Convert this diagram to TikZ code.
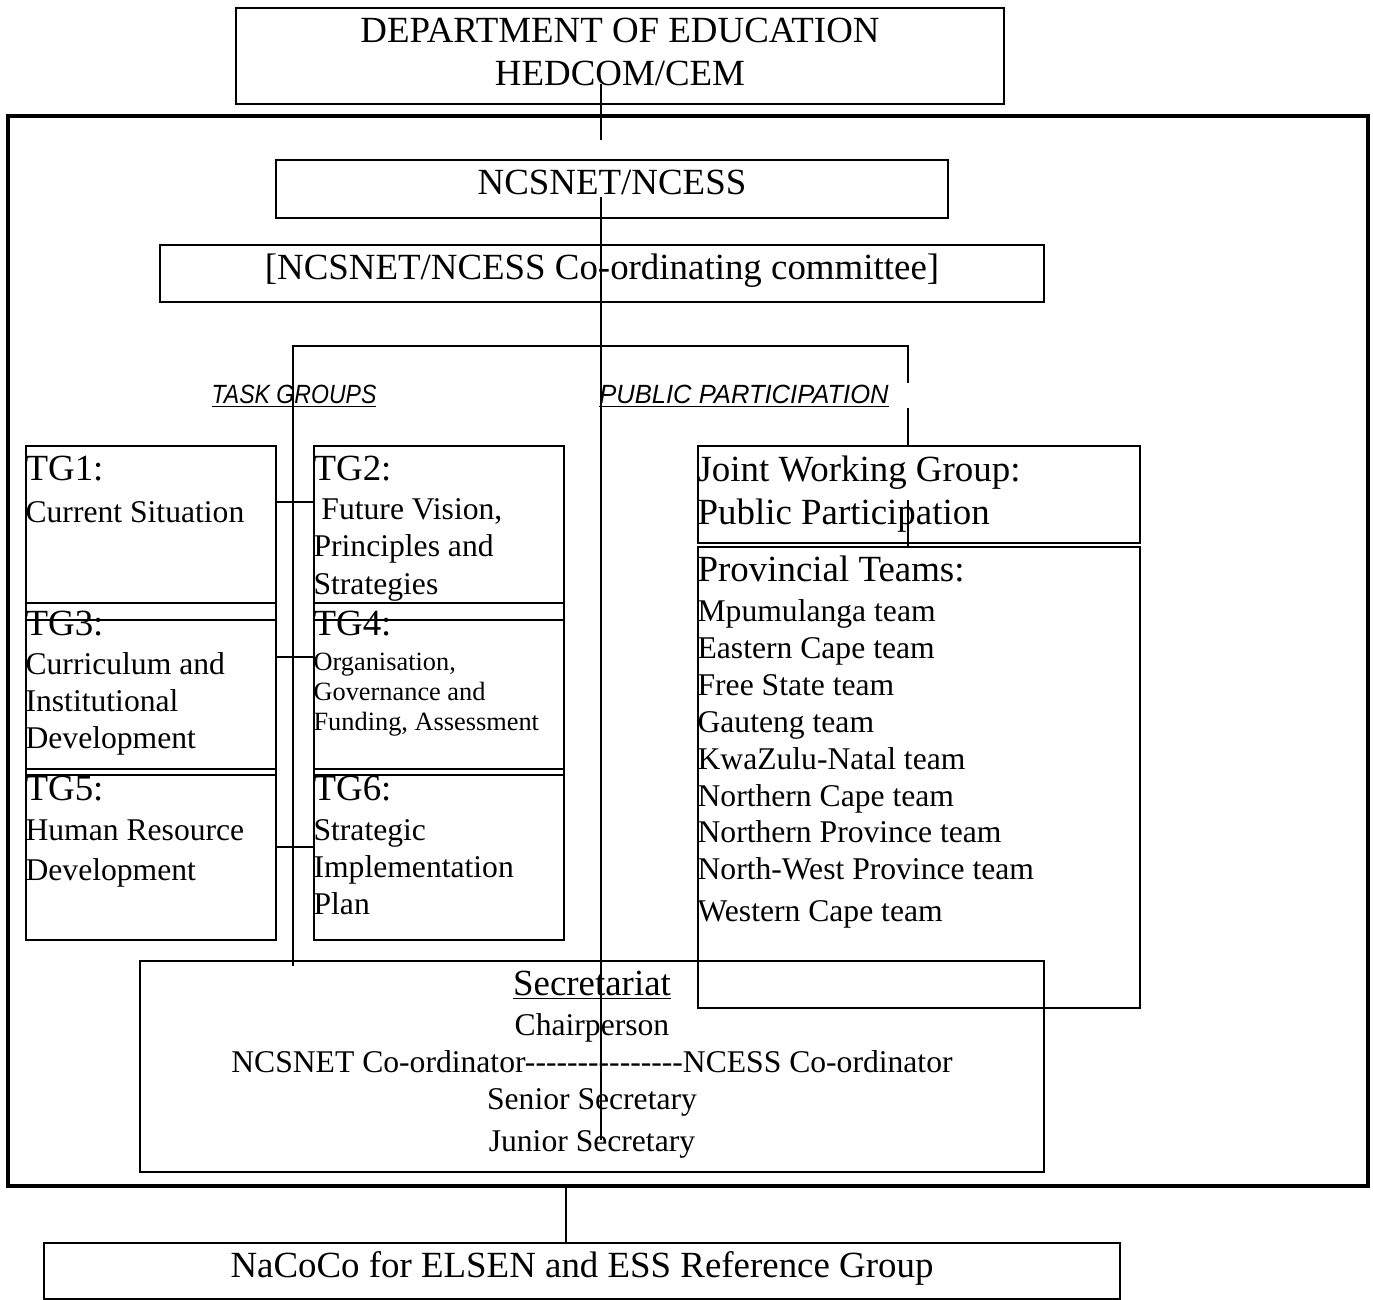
\documentclass[tikz,border=0pt]{standalone}
\usepackage{fontspec}
\setmainfont{Liberation Serif}
\setsansfont{Liberation Sans}
\newfontfamily\tagfont{Liberation Sans}[FakeStretch=0.875]
\newfontfamily\tagwidefont{Liberation Sans}[FakeStretch=0.97]
\usetikzlibrary{positioning}

\newcommand{\orgbig}{\fontsize{21}{24.4}\selectfont}
\newcommand{\orgmid}{\fontsize{18}{21}\selectfont}
\newcommand{\orgsmall}{\fontsize{15}{17}\selectfont}

\begin{document}
\begin{tikzpicture}[
		x=0.02cm, y=-0.02cm,
		orgbox/.style={draw, line width=0.9pt, inner sep=0pt},
		outerbox/.style={draw, line width=2pt, inner sep=0pt},
		orglink/.style={line width=0.9pt},
		boxtext/.style={inner sep=0pt, align=left, font=\orgmid},
		grouptag/.style={anchor=base, inner sep=0pt, font=\itshape\fontsize{15}{17}\selectfont}
		]
		\useasboundingbox (0,0) rectangle (1373,1300);
		
		% --- TOP LEVEL ---
		\node[orgbox, minimum width=15.36cm, minimum height=1.92cm, align=center, font=\orgbig, text depth=4.5pt] (dept) at (620,56) {DEPARTMENT OF EDUCATION\\HEDCOM/CEM};
		\node[outerbox, minimum width=27.2cm, minimum height=21.4cm] (frame) at (688,651) {};
		\node[orgbox, minimum width=13.44cm, minimum height=1.16cm, font=\orgbig, text depth=8pt] (ncsnet) at (612,189) {NCSNET/NCESS};
		\node[orgbox, minimum width=17.68cm, minimum height=1.14cm, font=\orgbig, text depth=8.2pt] (ccom) at (602,273.5) {[NCSNET/NCESS Co-ordinating committee]};
		
		% --- TASK GROUPS ---
		\foreach \n/\x/\y/\h in {1/151/533/3.48, 2/439/533/3.48, 3/151/689/3.44, 4/439/689/3.44, 5/151/854.5/3.42, 6/439/854.5/3.42} {
			\node[orgbox, minimum width=5cm, minimum height=\h cm] (tg\n) at (\x,\y) {};
		}
		\node[boxtext, below right=0.2cm and 0cm of tg1.north west] (tg1txt) {{\orgbig TG1:}\\[3.4pt]Current Situation};
		\node[boxtext, below right=0.2cm and 0cm of tg2.north west] (tg2txt) {{\orgbig TG2:}\\[1.5pt]\hspace{0.25em}Future Vision,\\Principles and\\[0.8pt]Strategies};
		\node[boxtext, below right=0.16cm and 0cm of tg3.north west] (tg3txt) {{\orgbig TG3:}\\[1.7pt]Curriculum and\\Institutional\\Development};
		\node[boxtext, font=\orgsmall, below right=0.16cm and 0cm of tg4.north west] (tg4txt) {{\orgbig TG4:}\\[3.4pt]Organisation,\\Governance and\\Funding, Assessment};
		\node[boxtext, below right=0.14cm and 0cm of tg5.north west] (tg5txt) {{\orgbig TG5:}\\[2.2pt]Human Resource\\[1.7pt]Development};
		\node[boxtext, below right=0.14cm and 0cm of tg6.north west] (tg6txt) {{\orgbig TG6:}\\[2.2pt]Strategic\\Implementation\\Plan};
		\node[grouptag] (tasktag) at (294,404) {\tagfont\underline{TASK GROUPS}};
		
		% --- PUBLIC PARTICIPATION ---
		\node[orgbox, minimum width=8.84cm, minimum height=1.94cm] (jwg) at (919,494.5) {};
		\node[boxtext, font=\orgbig, below right=0.21cm and 0cm of jwg.north west] (jwgtxt) {Joint Working Group:\\Public Participation};
		\node[orgbox, minimum width=8.84cm, minimum height=9.22cm] (prov) at (919,777.5) {};
		\node[boxtext, below right=0.19cm and 0cm of prov.north west] (provtxt) {{\orgbig Provincial Teams:}\\[1.7pt]Mpumulanga team\\Eastern Cape team\\Free State team\\Gauteng team\\KwaZulu-Natal team\\Northern Cape team\\Northern Province team\\North-West Province team\\[2.8pt]Western Cape team};
		\node[grouptag] (pubtag) at (744,404) {\tagwidefont\underline{PUBLIC PARTICIPATION}};
		
		% --- SECRETARIAT ---
		\node[orgbox, minimum width=18.08cm, minimum height=4.22cm] (secr) at (592,1066.5) {};
		\node[inner sep=0pt, anchor=north, align=center, font=\orgmid] (secrtxt) at (592,971) {{\orgbig\underline{Secretariat}}\\[1.7pt]Chairperson\\NCSNET Co-ordinator-{}-{}-{}-{}-{}-{}-{}-{}-{}-{}-{}-{}-{}-{}-{}NCESS Co-ordinator\\Senior Secretary\\[2.8pt]Junior Secretary};
		
		% --- REFERENCE GROUP ---
		\node[orgbox, minimum width=21.52cm, minimum height=1.12cm, font=\orgbig, text depth=7pt] (nacoco) at (582,1271) {NaCoCo for ELSEN and ESS Reference Group};
		
		% --- CONNECTORS ---
		\coordinate (deptfoot) at (601,84);
		\coordinate (spinegap) at (601,140);
		\coordinate (spinetop) at (601,197);
		\coordinate (spinefoot) at (601,1140);
		\coordinate (barL) at (293,346);
		\coordinate (barR) at (908,346);
		\coordinate (tgfoot) at (293,966);
		\coordinate (pubgap1) at (908,383);
		\coordinate (pubgap2) at (908,408);
		\coordinate (jwglink) at (908,500);
		\coordinate (nacolink) at (566,1200);
		
		\draw[orglink] (deptfoot) -- (spinegap);
		\draw[orglink] (spinetop) -- (spinefoot);
		\draw[orglink] (tgfoot) -- (barL) -- (barR) -- (pubgap1);
		\draw[orglink] (pubgap2) -- (jwg.north -| barR);
		\draw[orglink] (jwglink) -- ([yshift=-0.02cm]prov.north -| barR);
		\foreach \a/\b/\y in {1/2/502, 3/4/657, 5/6/847} {
			\coordinate (rung\a) at (293,\y);
			\draw[orglink] (tg\a.east |- rung\a) -- (tg\b.west |- rung\a);
		}
		\draw[orglink] (frame.south -| nacolink) -- (nacoco.north -| nacolink);
		
	\end{tikzpicture}
\end{document}
